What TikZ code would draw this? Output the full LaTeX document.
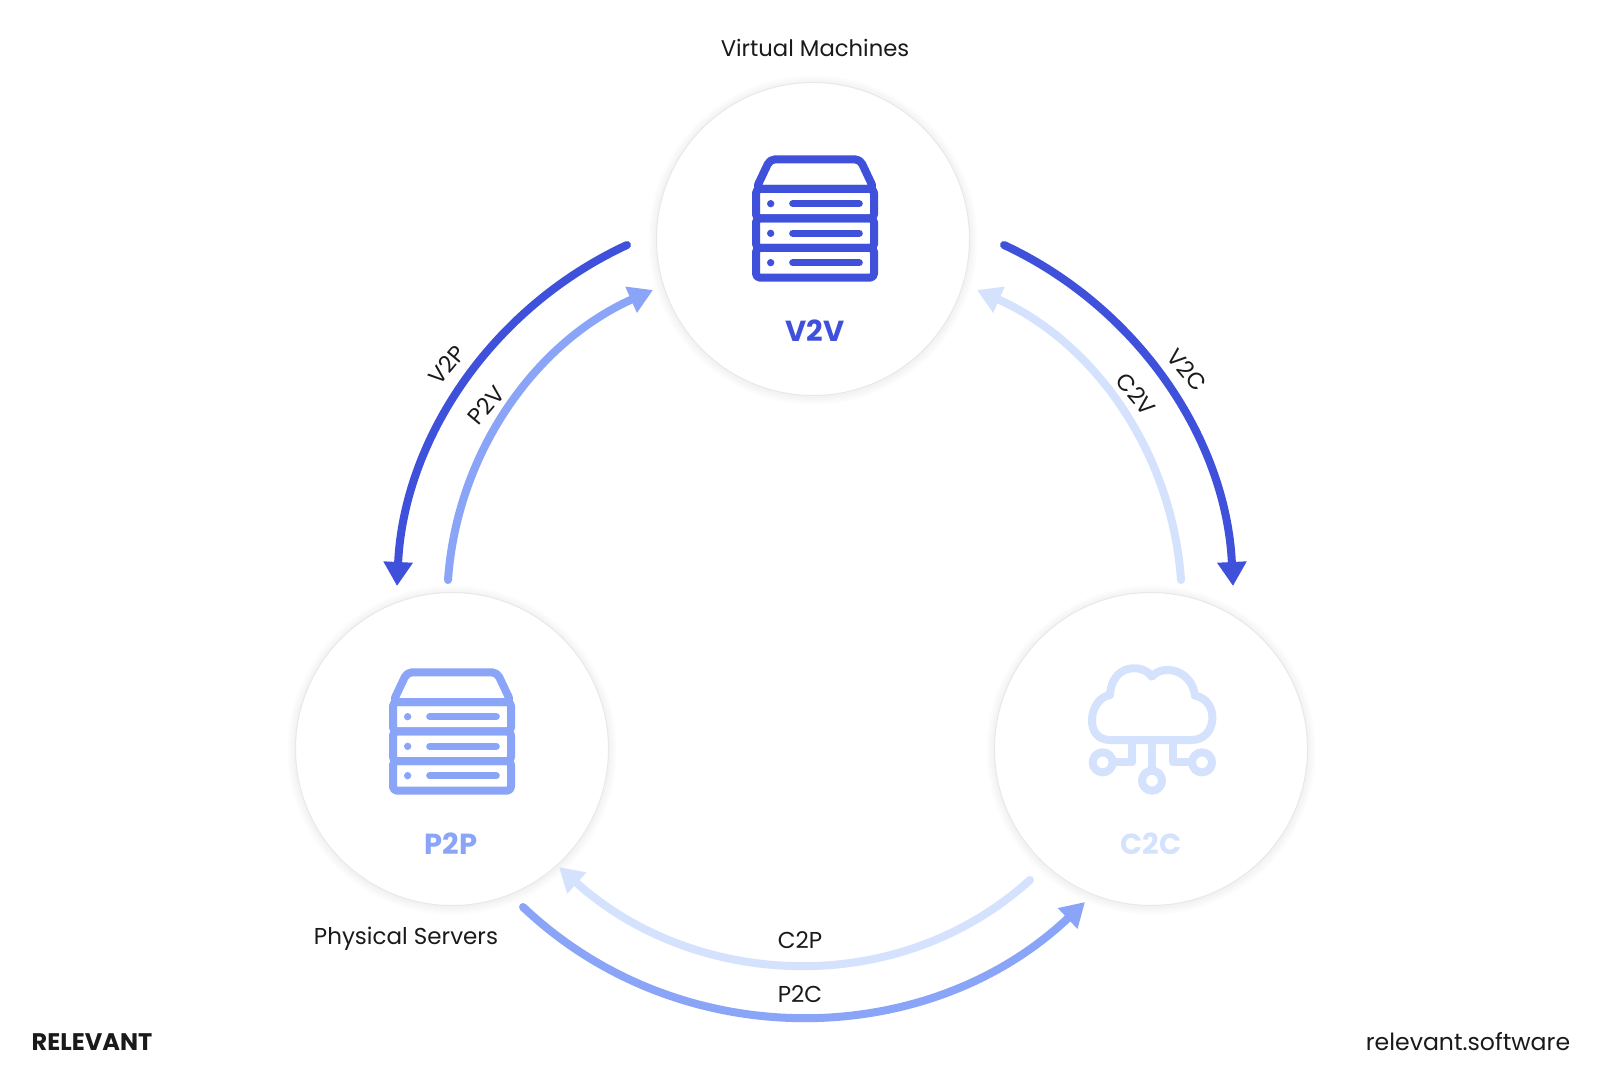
\documentclass[tikz,border=0pt]{standalone}
\usepackage{fontspec}
\setmainfont{Poppins}
\usetikzlibrary{arrows.meta}
\definecolor{cdark}{HTML}{3F51DB}
\definecolor{cmid}{HTML}{8AA5F8}
\definecolor{clight}{HTML}{D4E2FD}
\definecolor{cink}{HTML}{1A1A1A}
\tikzset{
  hub/.style={circle,minimum size=313pt,inner sep=0pt,fill=white,draw=black!9,line width=1pt},
  halo/.style={circle,minimum size=#1,inner sep=0pt,fill=black,fill opacity=.012,draw=none},
  flow/.style={line width=#1,line cap=round},
  headbig/.style={-{Triangle[length=24pt,width=28pt]}},
  headsmall/.style={-{Triangle[length=24pt,width=27pt]}},
  lab/.style={font=\fontsize{23}{27}\selectfont,text=cink,inner sep=0pt},
  hublab/.style={font=\fontsize{29}{34}\selectfont\bfseries,inner sep=0pt},
  icon/.style={line width=8pt,line join=round,line cap=round},
}
\newcommand{\servericon}[1]{%
  \draw[icon,#1,rounded corners=5pt]
    (348,357) -- (390,268) -- (660,268) -- (702,357) -- cycle;
  \draw[icon,#1,rounded corners=4pt] (348,357) rectangle (702,445);
  \draw[icon,#1,rounded corners=4pt] (348,445) rectangle (702,534);
  \draw[icon,#1,rounded corners=4pt] (348,534) rectangle (702,623);
  \foreach \yy in {401,490,578} {
    \fill[#1] (392,\yy) circle (11);
    \draw[#1,line width=7pt,line cap=round] (458,\yy) -- (658,\yy);
  }
}
\begin{document}
\begin{tikzpicture}[x=1pt,y=-1pt]
\useasboundingbox (0,0) rectangle (1600,1073);
\fill[white] (0,0) rectangle (1600,1073);

% hubs
\foreach \cx/\cy in {813/239,452/749,1151/749} {
  \foreach \ss in {329pt,325pt,321pt,317pt} {
    \node[halo=\ss] at (\cx,\cy+1) {};
  }
}
\node[hub] (vhub) at (813,239) {};
\node[hub] (phub) at (452,749) {};
\node[hub] (chub) at (1151,749) {};

% icons
\begin{scope}[shift={(640,70)},scale=1/3]
  \servericon{cdark}
\end{scope}
\begin{scope}[shift={(277,583)},scale=1/3]
  \servericon{cmid}
\end{scope}
\begin{scope}[shift={(1000,630)},scale=1/3]
  \draw[icon,clight] (330,330) .. controls (250,330) and (266,205) .. (330,195)
     .. controls (335,100) and (430,100) .. (455,140)
     .. controls (490,100) and (575,120) .. (585,197)
     .. controls (660,210) and (652,330) .. (575,330) -- cycle;
  \draw[icon,clight] (456,330) -- (456,420);
  \draw[icon,clight] (397,330) -- (397,397) -- (340,397);
  \draw[icon,clight] (518,330) -- (518,397) -- (573,397);
  \draw[icon,clight] (456,452) circle (30);
  \draw[icon,clight] (308,397) circle (30);
  \draw[icon,clight] (606,397) circle (30);
\end{scope}

% hub labels
\node[hublab,text=cdark] (vlab) at (815,331) {V2V};
\node[hublab,text=cmid] (plab) at (451,844) {P2P};
\node[hublab,text=clight] (clab) at (1151,844) {C2C};

% connector ends
\coordinate (v2pa) at (627,245);  \coordinate (v2pb) at (397,586);
\coordinate (p2va) at (448,580);  \coordinate (p2vb) at (653,290);
\coordinate (v2ca) at (1004,245); \coordinate (v2cb) at (1233,586);
\coordinate (c2va) at (1181,580); \coordinate (c2vb) at (977,290);
\coordinate (p2ca) at (523,907);  \coordinate (p2cb) at (1085,902);
\coordinate (c2pa) at (1030,880); \coordinate (c2pb) at (559,867);

% connectors
\draw[flow=8pt,cdark,headbig] (v2pa) .. controls (493,307) and (404,438) .. (v2pb);
\draw[flow=8pt,cmid,headsmall] (p2va) .. controls (457,452) and (536,342) .. (p2vb);
\draw[flow=8pt,cdark,headbig] (v2ca) .. controls (1137,307) and (1226,438) .. (v2cb);
\draw[flow=8pt,clight,headsmall] (c2va) .. controls (1172,452) and (1094,342) .. (c2vb);
\draw[flow=8pt,cmid,headsmall] (p2ca) .. controls (680,1056) and (928,1051) .. (p2cb);
\draw[flow=8pt,clight,headsmall] (c2pa) .. controls (896,1001) and (693,988) .. (c2pb);

% labels
\node[lab,font=\fontsize{22.7}{27}\selectfont] (tvm) at (815,48) {Virtual Machines};
\node[lab] (tps) at (406,939) {Physical Servers};
\node[lab,rotate=50] (lv2p) at (447,365) {V2P};
\node[lab,rotate=50] (lp2v) at (486,405) {P2V};
\node[lab,rotate=-50] (lv2c) at (1187,370) {V2C};
\node[lab,rotate=-50] (lc2v) at (1136,394) {C2V};
\node[lab] (lc2p) at (800,940) {C2P};
\node[lab] (lp2c) at (800,994) {P2C};
\node[font=\fontsize{24}{28}\selectfont\bfseries,text=cink,inner sep=0pt] (brand) at (92,1042) {RELEVANT};
\node[font=\fontsize{23.6}{28}\selectfont,text=cink,inner sep=0pt] (site) at (1468,1042) {relevant.software};
\end{tikzpicture}
\end{document}
